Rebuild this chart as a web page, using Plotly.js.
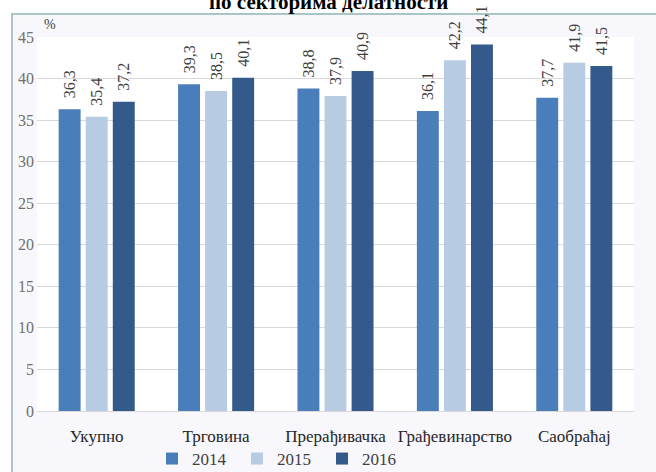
<!DOCTYPE html>
<html>
<head>
<meta charset="utf-8">
<script src="https://cdn.plot.ly/plotly-3.0.1.min.js"></script>
<style>
  html, body { margin:0; padding:0; background:#ffffff; }
  #wrap { position:relative; width:656px; height:472px; overflow:hidden; }
  #frame { position:absolute; left:11px; top:13px; right:0; bottom:0; background:#f8f8fc;
           border-left:2px solid #a9c6c6; border-top:2px solid #a9c6c6; }
  #chart { position:absolute; left:0; top:0; width:656px; height:472px; }
</style>
</head>
<body>
<div id="wrap">
  <div id="frame"></div>
  <div id="chart"></div>
</div>
<script>
const categories = ['Укупно', 'Трговина', 'Прерађивачка', 'Грађевинарство', 'Саобраћај'];
const years = ['2014', '2015', '2016'];
const values2014 = [36.3, 39.3, 38.8, 36.1, 37.7];
const values2015 = [35.4, 38.5, 37.9, 42.2, 41.9];
const values2016 = [37.2, 40.1, 40.9, 44.1, 41.5];
const colors = ['#4a7ebb', '#b7cbe3', '#34598b'];
const yTicks = [0, 5, 10, 15, 20, 25, 30, 35, 40, 45];

const serif = '"Liberation Serif", serif';
const series = [values2014, values2015, values2016];

const traces = series.map((vals, i) => ({
  type: 'bar',
  name: years[i],
  x: categories,
  y: vals,
  marker: { color: colors[i] },
  texttemplate: '\u00a0\u00a0%{y:.1f}',
  textposition: 'outside',
  textangle: -90,
  constraintext: 'none',
  textfont: { family: serif, size: 16, color: '#404040' },
  cliponaxis: false,
  hoverinfo: 'x+y'
}));

const L = 37, R = 22, T = 37, B = 61;
const ph = 472 - T - B;
const py = p => (472 - B - p) / ph;

const layout = {
  width: 656, height: 472,
  margin: { l: L, r: R, t: T, b: B, autoexpand: false },
  paper_bgcolor: 'rgba(0,0,0,0)',
  plot_bgcolor: '#ffffff',
  separators: ', ',
  barmode: 'group',
  bargap: 0.32,
  bargroupgap: 0.19,
  showlegend: true,
  legend: {
    orientation: 'h',
    x: (152 - L) / (656 - L - R), xanchor: 'left',
    y: py(441), yanchor: 'top',
    font: { family: serif, size: 17, color: '#404040' },
    itemwidth: 30,
    entrywidth: 40,
    bgcolor: 'rgba(0,0,0,0)'
  },
  xaxis: {
    type: 'category',
    showgrid: false,
    showline: true, linecolor: '#d9d9d9', linewidth: 1,
    ticks: '',
    ticklabelstandoff: 10,
    tickfont: { family: serif, size: 17, color: '#262626' }
  },
  yaxis: {
    range: [0, 45],
    tickvals: yTicks,
    ticktext: yTicks.map(String),
    showgrid: true, gridcolor: '#d9d9d9', gridwidth: 1,
    zeroline: false,
    showline: false,
    ticks: '',
    ticklabelstandoff: 2,
    tickfont: { family: serif, size: 16, color: '#6f6f6f' }
  },
  annotations: [
    {
      text: '%', xref: 'paper', yref: 'paper',
      x: (42 - L) / (656 - L - R), xanchor: 'left',
      y: py(24), yanchor: 'middle',
      showarrow: false,
      font: { family: serif, size: 14, color: '#404040' }
    },
    {
      text: '<b>по секторима делатности</b>', xref: 'paper', yref: 'paper',
      x: (328 - L) / (656 - L - R), xanchor: 'center',
      y: py(16), yanchor: 'bottom',
      showarrow: false,
      font: { family: serif, size: 21, color: '#000000' }
    }
  ]
};

Plotly.newPlot('chart', traces, layout, { displayModeBar: false, staticPlot: true });
</script>
</body>
</html>
